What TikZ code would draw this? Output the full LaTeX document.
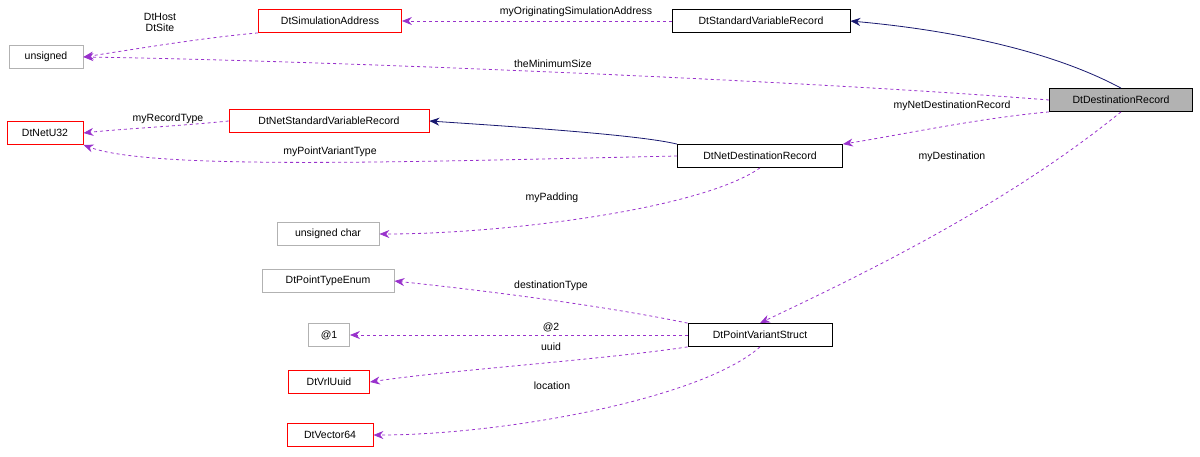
\documentclass[tikz,border=0pt]{standalone}
\usepackage{fontspec}
\setmainfont{Liberation Sans}
\usetikzlibrary{arrows.meta}
\definecolor{edgepurple}{RGB}{153,50,204}
\definecolor{edgenavy}{RGB}{25,25,112}
\tikzset{
	cls/.style={draw=black, fill=white, minimum height=23pt, inner xsep=2pt, line width=0.8pt, font=\fontsize{10.5}{12}\selectfont},
	ext/.style={cls, draw=red},
	prim/.style={cls, draw=black!30},
	main/.style={cls, fill=black!30},
	use/.style={draw=edgepurple, dashed, line width=0.8pt, -{Stealth[length=10pt,width=8pt]}},
	inherit/.style={draw=edgenavy, line width=0.8pt, -{Stealth[length=10pt,width=8pt]}},
	lbl/.style={font=\fontsize{10.5}{11}\selectfont, align=center, inner sep=1pt},
}
\begin{document}
\begin{tikzpicture}[x=1pt, y=-1pt]

% frame %{{{2

	\useasboundingbox (0,0) rectangle (1200,456);

% classes %{{{2

	\node[main, minimum width=143pt] (DestRec) at (1121,100) {DtDestinationRecord};
	\node[cls, minimum width=178pt] (StdVarRec) at (761,21) {DtStandardVariableRecord};
	\node[ext, minimum width=143pt] (SimAddr) at (330,21) {DtSimulationAddress};
	\node[prim, minimum width=74pt] (Unsigned) at (46,57) {unsigned};
	\node[ext, minimum width=200pt] (NetStdVarRec) at (329,121) {DtNetStandardVariableRecord};
	\node[ext, minimum width=76pt] (NetU32) at (45,133) {DtNetU32};
	\node[cls, minimum width=165pt] (NetDestRec) at (760,156) {DtNetDestinationRecord};
	\node[prim, minimum width=102pt] (UChar) at (328,234) {unsigned char};
	\node[prim, minimum width=132pt] (PtTypeEnum) at (328,281) {DtPointTypeEnum};
	\node[prim, minimum width=41pt] (Anon) at (329,335) {@1};
	\node[cls, minimum width=144pt] (PtVarStruct) at (760,335) {DtPointVariantStruct};
	\node[ext, minimum width=81pt] (VrlUuid) at (329,382) {DtVrlUuid};
	\node[ext, minimum width=86pt] (Vector64) at (330,435) {DtVector64};

% inheritance %{{{2

	\draw[inherit] (DestRec.north) .. controls (1050,50) and (950,30) .. (StdVarRec.east);
	\draw[inherit] (NetDestRec.north west) .. controls (640,135) and (520,127) .. (NetStdVarRec.east);

% members %{{{2

	\draw[use] (StdVarRec.west) -- (SimAddr.east);
	\draw[use] (SimAddr.south west) .. controls (200,38) and (130,50) .. (Unsigned.east);
	\draw[use] (DestRec.west) .. controls (800,80) and (300,60) .. (Unsigned.east);
	\draw[use] (DestRec.south west) .. controls (980,118) and (900,135) .. (NetDestRec.north east);
	\draw[use] (NetStdVarRec.west) .. controls (180,126) and (120,129) .. (NetU32.east);
	\draw[use] (NetDestRec.west) .. controls (400,162) and (150,170) .. (NetU32.south east);
	\draw[use] (NetDestRec.south) .. controls (700,210) and (500,234) .. (UChar.east);
	\draw[use] (DestRec.south) .. controls (1000,210) and (850,280) .. (PtVarStruct.north);
	\draw[use] (PtVarStruct.north west) .. controls (600,305) and (480,290) .. (PtTypeEnum.east);
	\draw[use] (PtVarStruct.west) -- (Anon.east);
	\draw[use] (PtVarStruct.south west) .. controls (600,360) and (450,370) .. (VrlUuid.east);
	\draw[use] (PtVarStruct.south) .. controls (700,400) and (500,435) .. (Vector64.east);

% labels %{{{2

	\node[lbl] (lOrig) at (576,12) {myOriginatingSimulationAddress};
	\node[lbl] (lHost) at (160,22) {DtHost\\DtSite};
	\node[lbl] (lMinSize) at (553,64) {theMinimumSize};
	\node[lbl] (lNetDest) at (952,106) {myNetDestinationRecord};
	\node[lbl] (lRecType) at (168,119) {myRecordType};
	\node[lbl] (lPtVarType) at (330,152) {myPointVariantType};
	\node[lbl] (lPadding) at (552,198) {myPadding};
	\node[lbl] (lDest) at (952,157) {myDestination};
	\node[lbl] (lDestType) at (551,286) {destinationType};
	\node[lbl] (lAnon) at (551,327) {@2};
	\node[lbl] (lUuid) at (551,347) {uuid};
	\node[lbl] (lLoc) at (552,386) {location};

% closing %{{{2

\end{tikzpicture}
\end{document}
